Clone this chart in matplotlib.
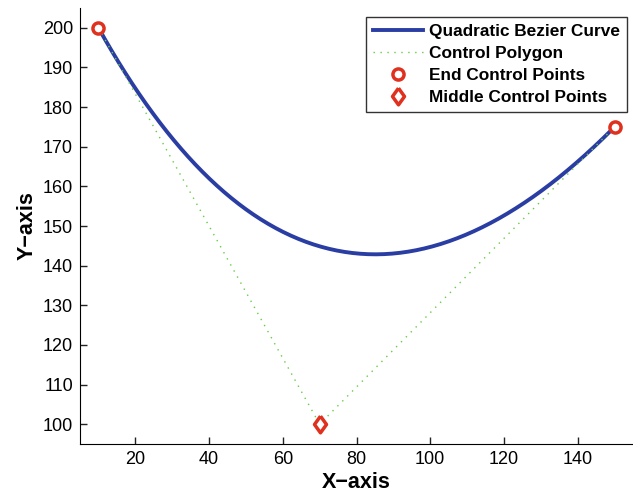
import numpy as np
import matplotlib
matplotlib.use("Agg")
import matplotlib.pyplot as plt

plt.rcParams['font.family'] = ['Liberation Sans', 'DejaVu Sans']

# Control points
ctrl_x = [10, 70, 150]
ctrl_y = [200, 100, 175]
end_x = [10, 150]
end_y = [200, 175]
mid_x = [70]
mid_y = [100]

xticks = [20, 40, 60, 80, 100, 120, 140]
yticks = [100, 110, 120, 130, 140, 150, 160, 170, 180, 190, 200]

# Quadratic Bezier from the control points
t = np.linspace(0, 1, 200)
P = np.array([ctrl_x, ctrl_y], dtype=float)
curve = ((1 - t) ** 2)[None, :] * P[:, [0]] + (2 * t * (1 - t))[None, :] * P[:, [1]] + (t ** 2)[None, :] * P[:, [2]]

diamond = [(0, 1), (0.72, 0), (0, -1), (-0.72, 0), (0, 1)]

fig = plt.figure(figsize=(6.33, 4.94), dpi=100)
ax = fig.add_axes([0.1264, 0.1012, 0.8736, 0.8826])

ax.plot(curve[0], curve[1], color='#2a3da3', lw=2.8, label='Quadratic Bezier Curve', zorder=3)
ax.plot(ctrl_x, ctrl_y, color='#66cc44', lw=1.0, ls=(0, (1, 4)), label='Control Polygon', zorder=4)
ax.plot(end_x, end_y, ls='none', marker='o', ms=8, mfc='white', mec='#e0301e', mew=2.5,
        label='End Control Points', zorder=5)
ax.plot(mid_x, mid_y, ls='none', marker=diamond, ms=12, mfc='white', mec='#e0301e', mew=2.5,
        label='Middle Control Points', zorder=5)

ax.set_xlim(5, 155)
ax.set_ylim(95, 205)
ax.set_xticks(xticks)
ax.set_yticks(yticks)
ax.spines['top'].set_visible(False)
ax.spines['right'].set_visible(False)
ax.tick_params(direction='in', length=5, labelsize=13, color='#222222', width=1, pad=5)
ax.set_xlabel('X\u2212axis', fontsize=15.5, fontweight='bold', labelpad=3)
ax.set_ylabel('Y\u2212axis', fontsize=15.5, fontweight='bold', labelpad=4)

leg = ax.legend(loc='upper right', bbox_to_anchor=(0.989, 0.979), prop={'weight': 'bold', 'size': 12.4},
                frameon=True, fancybox=False, edgecolor='black', borderpad=0.4,
                handlelength=2.9, labelspacing=0.4, handletextpad=0.35, borderaxespad=0)
leg.get_frame().set_linewidth(1.0)

fig.savefig('out.png', dpi=100)
